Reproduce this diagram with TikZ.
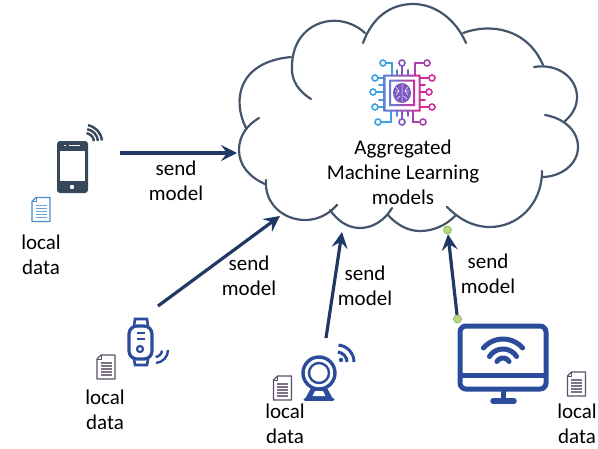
\documentclass[tikz,border=0pt]{standalone}
\usepackage{fontspec}
\setmainfont{Carlito}
\usetikzlibrary{arrows.meta, positioning}

\definecolor{cloudline}{HTML}{44546A}
\definecolor{arrowblue}{HTML}{203864}
\definecolor{iconblue}{HTML}{2A4C9A}
\definecolor{phonegray}{HTML}{37475A}
\definecolor{dotgreen}{HTML}{B7DB78}
\definecolor{docblue}{HTML}{4A8CC8}
\definecolor{docgray}{HTML}{5C5068}
\definecolor{chipa}{HTML}{3F9FE6}
\definecolor{chipb}{HTML}{5A80D8}
\definecolor{chipc}{HTML}{7A58C0}
\definecolor{chipd}{HTML}{A840AE}
\definecolor{chipe}{HTML}{D02C9C}

\tikzset{
	label/.style={align=center, font=\fontsize{21}{24.8}\selectfont, inner sep=0pt},
	cloudarc/.style={draw=cloudline, line width=2.2pt, line cap=round},
	sendarrow/.style={draw=arrowblue, line width=3.2pt, -{Stealth[length=16pt, width=16pt, inset=6pt]}},
	greendot/.style={circle, draw=dotgreen!70!black, fill=dotgreen, line width=0.5pt, minimum size=8pt, inner sep=0pt},
	wire/.style={line width=1.6pt, line cap=round},
	pin/.style={line width=1.6pt, fill=white},
	pics/docicon/.style={code={
		\draw[draw=#1, line width=1.3pt, fill=white, line join=round] (4,0) -- (18,0) -- (18,24) -- (0,24) -- (0,4) -- cycle;
		\draw[draw=#1, line width=0.8pt] (0,4) -- (4,4) -- (4,0);
		\foreach \ly in {8,11,14,17,20} {
			\draw[draw=#1!80, line width=1.2pt] (3.5,\ly) -- (14.5,\ly);
		}
	}},
}

\begin{document}
\begin{tikzpicture}[x=1pt, y=-1pt]
	\useasboundingbox (0,0) rectangle (598,448);

	% Cloud
	\draw[cloudarc] (246,128) .. controls (232,100) and (238,62) .. (291,57);
	\draw[cloudarc] (311,99) .. controls (298,91) and (292,80) .. (292,70) .. controls (290,22) and (338,8) .. (365,33);
	\draw[cloudarc] (363,43) .. controls (372,18) and (390,4) .. (413,4) .. controls (436,4) and (456,20) .. (466,43);
	\draw[cloudarc] (463,33) .. controls (490,23) and (527,28) .. (543,65);
	\draw[cloudarc] (534,67) .. controls (558,63) and (577,78) .. (577,97) .. controls (577,107) and (572,115) .. (565,121);
	\draw[cloudarc] (545,115) .. controls (563,118) and (578,130) .. (578,147) .. controls (578,165) and (560,177) .. (542,177);
	\draw[cloudarc] (542,171) .. controls (542,205) and (517,227) .. (490,227) .. controls (472,227) and (458,218) .. (447,207);
	\draw[cloudarc] (455,216) .. controls (445,226) and (433,231) .. (420,231) .. controls (407,231) and (396,224) .. (388,215);
	\draw[cloudarc] (392,208) .. controls (385,220) and (373,228) .. (360,228) .. controls (347,228) and (337,220) .. (330,210);
	\draw[cloudarc] (337,205) .. controls (328,215) and (317,220) .. (305,220) .. controls (283,220) and (264,203) .. (266,180);
	\draw[cloudarc] (265,184) .. controls (249,177) and (239,165) .. (239,150) .. controls (239,136) and (247,125) .. (259,118);

	% Chip
	\foreach \wx/\wy/\wa/\wb/\wc in {383/63/392/63/chipa, 402/63/402/63/chipc, 427/63/415/63/chipd,
			378/122/391/122/chipa, 402/122/402/122/chipc, 423/122/413/122/chipd} {
		\draw[wire, draw=\wc] (\wx,\wy) -- (\wa,\wb) -- (\wa,{\wy<90 ? 75 : 111});
		\draw[pin, draw=\wc] (\wx,\wy) circle (3pt);
	}
	\foreach \wx/\wy/\wc in {375/78/chipa, 373/92/chipa, 375/107/chipa} {
		\draw[wire, draw=\wc] (\wx,\wy) -- (384,\wy);
		\draw[pin, draw=\wc] (\wx,\wy) circle (3pt);
	}
	\foreach \wx/\wy/\wc in {432/78/chipe, 429/92/chipe, 432/107/chipe} {
		\draw[wire, draw=\wc] (\wx,\wy) -- (420,\wy);
		\draw[pin, draw=\wc] (\wx,\wy) circle (3pt);
	}
	\foreach \sx/\sc in {397/chipb, 408/chipc} {
		\draw[wire, draw=\sc] (\sx,70) -- (\sx,75);
		\draw[wire, draw=\sc] (\sx,111) -- (\sx,116);
	}
	\foreach \sy in {85,100} {
		\draw[wire, draw=chipa] (379,\sy) -- (384,\sy);
		\draw[wire, draw=chipe] (420,\sy) -- (425,\sy);
	}
	\shade[even odd rule, left color=chipb, right color=chipe] (383.5,74.5) rectangle (420.5,111.5) (385.5,76.5) rectangle (418.5,109.5);
	\shade[even odd rule, left color=chipb, right color=chipe] (389,79.5) rectangle (415,106) (391,81.5) rectangle (413,104);
	\fill[chipc] (402,93) ellipse (9pt and 10pt);
	\draw[white, line width=0.5pt] (402,84) -- (402,102)
		(396,87) -- (399,91) -- (396,95) (408,87) -- (405,91) -- (408,95)
		(395,91) -- (399,91) (409,91) -- (405,91) (397,99) -- (400,96) (407,99) -- (404,96);

	% Cloud text
	\node[label] (cloudtext) at (403,172) {Aggregated\\Machine Learning\\models};

	% Phone
	\fill[phonegray, rounded corners=3pt] (57,141) rectangle (88,193);
	\fill[white] (60,151) rectangle (85,181);
	\fill[white] (72,187) circle (2.2pt);
	\draw[white, line width=0.8pt] (64,145.5) -- (66,145.5) (69,145.5) -- (80,145.5);
	\foreach \rr in {9,13,17} {
		\draw[phonegray, line width=2.4pt] (85,142) ++(-80:\rr) arc (-80:-5:\rr);
	}
	\pic (docphone) at (32,197.5) {docicon=docblue};
	\node[label] (localphone) at (41,255) {local\\data};

	% Watch
	\draw[iconblue, line width=3.2pt, rounded corners=8pt] (129,326) rectangle (152,359);
	\draw[iconblue, line width=2.6pt] (134,326) -- (135,319) -- (147,319) -- (148,326)
		(134,359) -- (135,365) -- (147,365) -- (148,359);
	\draw[iconblue, line width=2.2pt] (137,333) -- (145,333) (137,339) -- (145,339);
	\draw[iconblue, line width=2.2pt] (140,349) circle (3pt);
	\draw[iconblue, line width=2.4pt] (155,350) ++(5:7) arc (5:85:7);
	\draw[iconblue, line width=2.4pt] (155,350) ++(0:13) arc (0:85:13);
	\pic (docwatch) at (97,355) {docicon=docgray};
	\node[label] (localwatch) at (105,410) {local\\data};

	% Webcam
	\draw[iconblue, line width=3.4pt] (319,373) circle (16pt);
	\draw[iconblue, line width=2.4pt] (319,373) circle (10pt);
	\fill[iconblue] (311,388) -- (327,388) -- (333,399) -- (305,399) -- cycle;
	\fill[white] (315,391) -- (323,391) -- (325.5,396) -- (312.5,396) -- cycle;
	\draw[iconblue, line width=3pt, line cap=round] (305,399) -- (333,399);
	\draw[iconblue, line width=3pt] (337,362) ++(-85:10) arc (-85:0:10);
	\draw[iconblue, line width=3pt] (337,362) ++(-85:17) arc (-85:0:17);
	\fill[iconblue] (341,360) circle (2.2pt);
	\pic (doccam) at (273.5,376) {docicon=docgray};
	\node[label] (localcam) at (285,424) {local\\data};

	% Monitor
	\draw[iconblue, line width=5pt, rounded corners=6pt] (460,326) rectangle (546,389);
	\draw[iconblue, line width=5pt] (460,375) -- (546,375);
	\draw[iconblue, line width=5pt] (503,391) -- (503,401);
	\draw[iconblue, line width=5.5pt, line cap=round] (493,401) -- (514,401);
	\draw[iconblue, line width=5pt, line cap=round] (503,365) ++(-139:26) arc (-139:-41:26);
	\draw[iconblue, line width=5pt, line cap=round] (503,365) ++(-148:16) arc (-148:-32:16);
	\draw[iconblue, line width=5pt, line cap=round] (503,365) ++(-150:7) arc (-150:-30:7);
	\pic (docscreen) at (567.5,372) {docicon=docgray};
	\node[label] (localscreen) at (577,424) {local\\data};

	% Arrows
	\coordinate (phoneout) at (120,153);
	\coordinate (phonein) at (237,153);
	\coordinate (watchout) at (158,306);
	\coordinate (watchin) at (280,216);
	\coordinate (camout) at (326,338);
	\coordinate (camin) at (342,232);
	\node[greendot] (screenout) at (457.5,319) {};
	\node[greendot] (screenin) at (447.5,230) {};
	\draw[sendarrow] (phoneout) -- (phonein);
	\draw[sendarrow] (watchout) -- (watchin);
	\draw[sendarrow] (camout) -- (camin);
	\draw[sendarrow] (screenout) -- (screenin);

	\node[label] (sendphone) at (176,181) {send\\model};
	\node[label] (sendwatch) at (249,276) {send\\model};
	\node[label] (sendcam) at (365,286) {send\\model};
	\node[label] (sendscreen) at (488,274) {send\\model};
\end{tikzpicture}
\end{document}
